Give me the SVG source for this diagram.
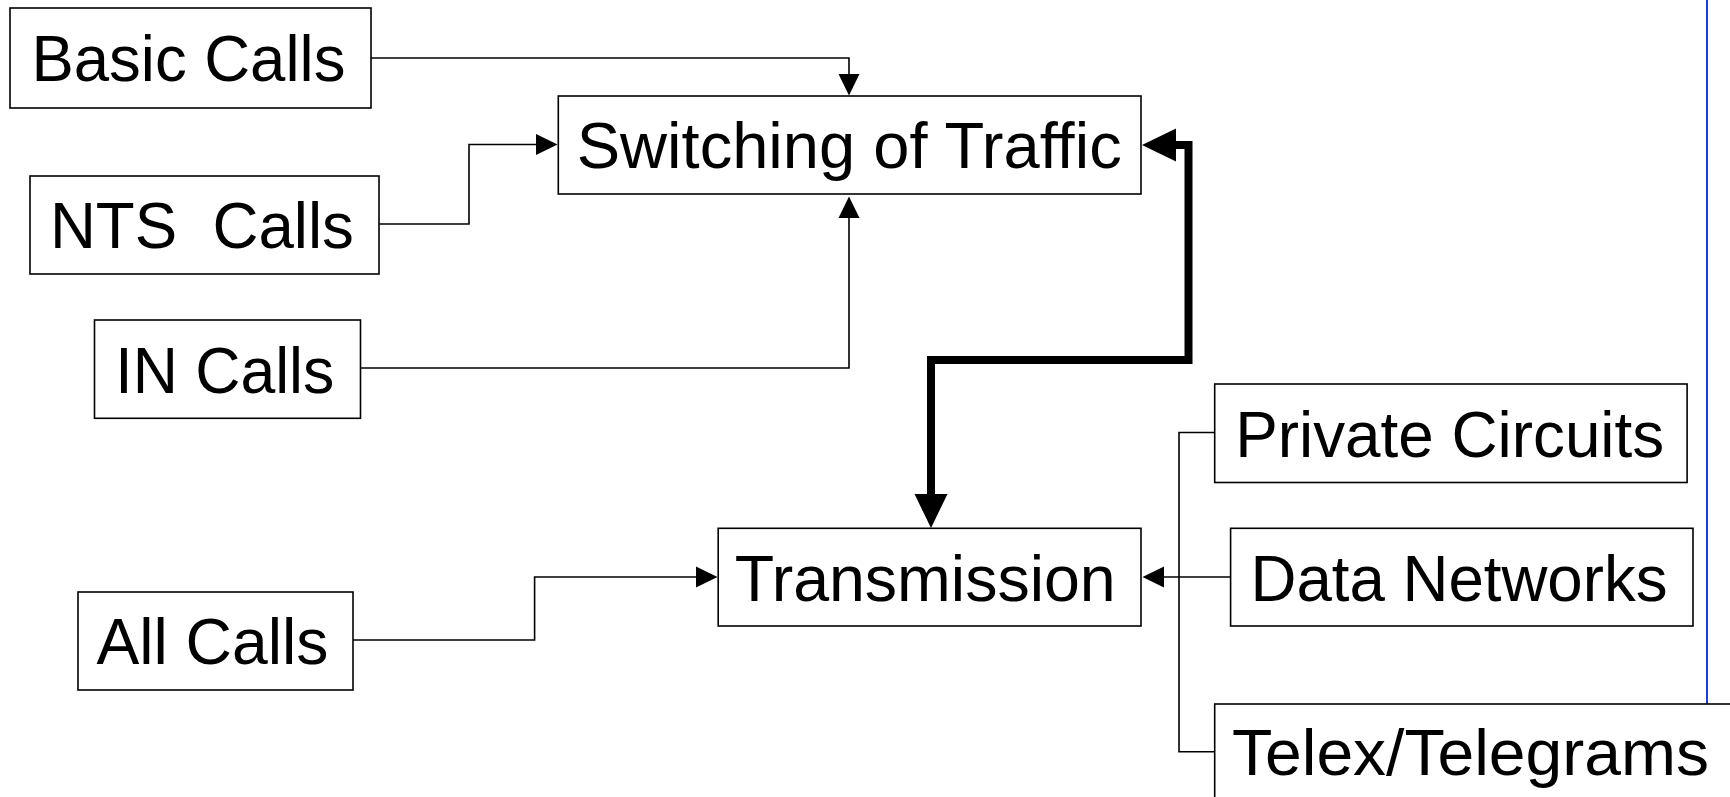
<svg xmlns="http://www.w3.org/2000/svg" width="1730" height="797" viewBox="0 0 1730 797">
<defs>
<style>
.box{fill:#fff;stroke:#000;stroke-width:1.6}
.lbl{font-family:"Liberation Sans",Arial,sans-serif;font-size:64.5px;fill:#000;text-anchor:middle}
.ln{fill:none;stroke:#000;stroke-width:1.6}
.thick{fill:none;stroke:#000;stroke-width:8}
</style>
<marker id="ah" markerUnits="userSpaceOnUse" markerWidth="22" markerHeight="22" refX="0" refY="10.5" orient="auto" overflow="visible"><path d="M0,0 L21.5,10.5 L0,21 z" fill="#000"/></marker>
<marker id="ahT" markerUnits="userSpaceOnUse" markerWidth="35" markerHeight="34" refX="0" refY="16.5" orient="auto-start-reverse" overflow="visible"><path d="M0,0 L34,16.5 L0,33 z" fill="#000"/></marker>
</defs>
<rect width="1730" height="797" fill="#fff"/>
<g id="connectors">
<path class="ln" d="M371,58 H849 V74" marker-end="url(#ah)"/>
<path class="ln" d="M379,224 H469 V144.5 H536" marker-end="url(#ah)"/>
<path class="ln" d="M360.5,368 H849 V218" marker-end="url(#ah)"/>
<path class="ln" d="M353,640 H534.6 V577 H696" marker-end="url(#ah)"/>
<path class="ln" d="M1214.7,432.5 H1179 V751.7 H1214.7"/>
<path class="ln" d="M1230.6,577 H1164" marker-end="url(#ah)"/>
<path class="thick" d="M1176,145 H1188.5 V360 H931 V494" marker-start="url(#ahT)" marker-end="url(#ahT)"/>
<line x1="1707" y1="0" x2="1707" y2="704" stroke="#1f3fc0" stroke-width="2"/>
</g>
<g id="basic-calls"><rect class="box" x="10" y="8" width="361" height="100"/><text class="lbl" x="188.4" y="81" textLength="314" lengthAdjust="spacingAndGlyphs">Basic Calls</text></g>
<g id="nts-calls"><rect class="box" x="30" y="176" width="349" height="98"/><text class="lbl" x="201.9" y="248.3" xml:space="preserve" textLength="304" lengthAdjust="spacingAndGlyphs">NTS  Calls</text></g>
<g id="in-calls"><rect class="box" x="94.5" y="320" width="266" height="98.3"/><text class="lbl" x="224.8" y="393.3" textLength="219" lengthAdjust="spacingAndGlyphs">IN Calls</text></g>
<g id="all-calls"><rect class="box" x="78" y="592" width="275" height="98"/><text class="lbl" x="212.4" y="664" textLength="232" lengthAdjust="spacingAndGlyphs">All Calls</text></g>
<g id="switching"><rect class="box" x="558.3" y="96" width="582.7" height="98"/><text class="lbl" x="849.2" y="168.3" textLength="545" lengthAdjust="spacingAndGlyphs">Switching of Traffic</text></g>
<g id="transmission"><rect class="box" x="718.2" y="528.3" width="422.8" height="97.7"/><text class="lbl" x="925.2" y="600.7" textLength="381" lengthAdjust="spacingAndGlyphs">Transmission</text></g>
<g id="private-circuits"><rect class="box" x="1214.7" y="384" width="472.4" height="98.5"/><text class="lbl" x="1449.7" y="456.7" textLength="429" lengthAdjust="spacingAndGlyphs">Private Circuits</text></g>
<g id="data-networks"><rect class="box" x="1230.6" y="528.3" width="462.4" height="97.7"/><text class="lbl" x="1459" y="600.7" textLength="417" lengthAdjust="spacingAndGlyphs">Data Networks</text></g>
<g id="telex"><rect class="box" x="1214.7" y="704" width="600" height="200"/><text class="lbl" x="1470.5" y="775" textLength="477" lengthAdjust="spacingAndGlyphs">Telex/Telegrams</text></g>
</svg>
